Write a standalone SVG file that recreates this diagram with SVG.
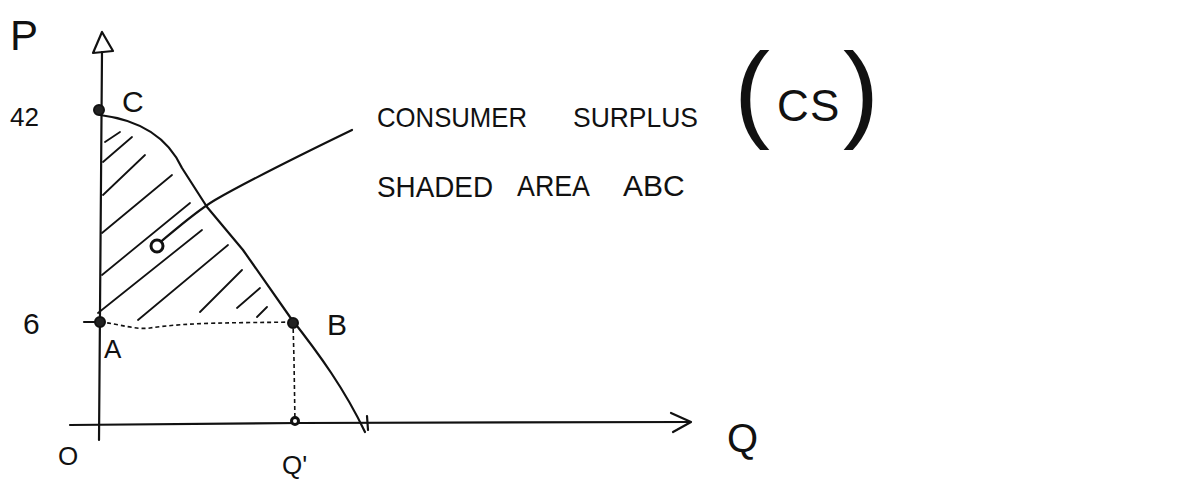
<svg xmlns="http://www.w3.org/2000/svg" width="1187" height="480" viewBox="0 0 1187 480">
<style>
.ln{fill:none;stroke:#111;stroke-width:2.2;stroke-linecap:round;stroke-linejoin:round}
.hatch{fill:none;stroke:#111;stroke-width:1.8;stroke-linecap:round}
.dot{fill:none;stroke:#111;stroke-width:1.6;stroke-dasharray:4 3}
.pt{fill:#222;stroke:#111;stroke-width:2}
.ring{fill:#fff;stroke:#111;stroke-width:3}
.t{font-family:"Liberation Sans",Arial,sans-serif;fill:#111;font-weight:normal}
</style>
<rect width="1187" height="480" fill="#fff"/>
<g id="axes">
<path class="ln" d="M102,52 L99,440"/>
<path class="ln" d="M102,32 L93,53 L113,51 Z"/>
<path class="ln" d="M70,425 L300,423 L690,422"/>
<path class="ln" d="M671,413 L691,422 L673,432"/>
<path class="ln" d="M367,416 L368,430"/>
<path class="ln" d="M84,322 L99,322"/>
<text class="t" x="10" y="50" font-size="42">P</text>
<text class="t" x="10" y="126" font-size="26">42</text>
<text class="t" x="23" y="334" font-size="30">6</text>
<text class="t" x="58" y="465" font-size="26">O</text>
<text class="t" x="282" y="474" font-size="26">Q'</text>
<text class="t" x="727" y="452" font-size="40">Q</text>
</g>
<g id="hatching">
<path class="hatch" d="M105,142 L120,132 M103,162 L132,137 M103,195 L145,155 M102,233 L172,175 M102,275 L190,203 M98,313 L202,230 M138,320 L228,245 M200,312 L242,270 M237,308 L260,288 M257,317 L267,307"/>
</g>
<g id="connectors">
<path class="ln" d="M100,115 C140,120 168,138 182,168 L207,207 L243,250 L290,317 C320,355 345,390 365,432"/>
<path class="dot" d="M100,322 C120,324 135,330 150,328 C190,322 240,323 293,322"/>
<path class="dot" d="M293,322 L294,360 L295,424"/>
<path class="ln" d="M157,245 C175,230 195,212 215,200 C250,180 290,160 352,130"/>
</g>
<g id="node-C">
<circle class="pt" cx="99" cy="110" r="5"/>
<text class="t" x="122" y="112" font-size="30">C</text>
</g>
<g id="node-A">
<circle class="pt" cx="100" cy="322" r="5"/>
<text class="t" x="104" y="358" font-size="26">A</text>
</g>
<g id="node-B">
<circle class="pt" cx="293" cy="323" r="5"/>
<text class="t" x="327" y="335" font-size="30">B</text>
</g>
<g id="node-Qp">
<circle class="ring" cx="295" cy="421" r="3.5"/>
</g>
<g id="node-area">
<circle class="ring" cx="157" cy="246" r="6"/>
</g>
<g id="label">
<text class="t" x="377" y="127" font-size="28" textLength="150" lengthAdjust="spacingAndGlyphs">CONSUMER</text>
<text class="t" x="573" y="127" font-size="28" textLength="125" lengthAdjust="spacingAndGlyphs">SURPLUS</text>
<text class="t" x="734" y="128" font-size="108">(</text>
<text class="t" x="777" y="121" font-size="44">C</text>
<text class="t" x="810" y="121" font-size="44">S</text>
<text class="t" x="843" y="128" font-size="108">)</text>
<text class="t" x="377" y="197" font-size="30" textLength="116" lengthAdjust="spacingAndGlyphs">SHADED</text>
<text class="t" x="517" y="196" font-size="30" textLength="73" lengthAdjust="spacingAndGlyphs">AREA</text>
<text class="t" x="623" y="196" font-size="30">ABC</text>
</g>
</svg>
